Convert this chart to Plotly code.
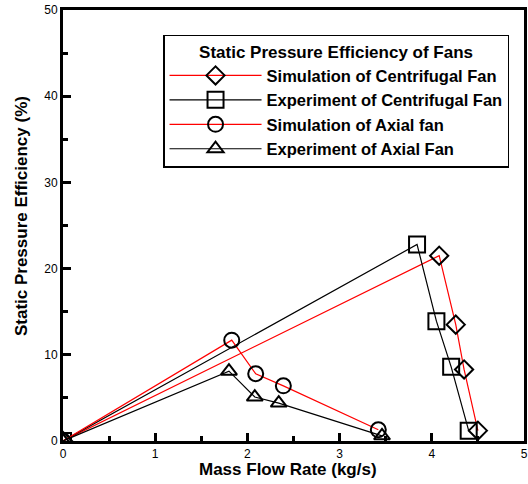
import plotly.graph_objects as go

sim_cf_x = [0, 4.08, 4.26, 4.35, 4.50]
sim_cf_y = [0, 21.5, 13.5, 8.3, 1.2]
exp_cf_x = [0, 3.84, 4.05, 4.21, 4.40]
exp_cf_y = [0, 22.8, 13.9, 8.6, 1.2]
sim_ax_x = [0, 1.83, 2.09, 2.39, 3.42]
sim_ax_y = [0, 11.7, 7.8, 6.4, 1.3]
exp_ax_x = [0, 1.80, 2.08, 2.34, 3.46]
exp_ax_y = [0, 8.1, 5.1, 4.4, 0.6]

names = ["Simulation of Centrifugal Fan", "Experiment of Centrifugal Fan",
         "Simulation of Axial fan", "Experiment of Axial Fan"]
symbols = ["diamond-open", "square-open", "circle-open", "triangle-up-open"]
colors = ["red", "black", "red", "black"]
sizes = [14, 16, 15, 14]
xs = [sim_cf_x, exp_cf_x, sim_ax_x, exp_ax_x]
ys = [sim_cf_y, exp_cf_y, sim_ax_y, exp_ax_y]

fig = go.Figure()
for x, y, n, s, c, sz in zip(xs, ys, names, symbols, colors, sizes):
    fig.add_trace(go.Scatter(
        x=x, y=y, name="<b>" + n + "</b>", mode="lines+markers",
        line=dict(color=c, width=1.2),
        marker=dict(symbol=s, size=sz, color="black", line=dict(color="black", width=2)),
    ))

axis_common = dict(
    showline=True, linewidth=3, linecolor="black", mirror=True,
    ticks="inside", ticklen=8, tickwidth=3, tickcolor="black",
    showgrid=False, zeroline=False, automargin=False,
    tickfont=dict(family="Liberation Sans", size=12, color="black"),
)
title_font = dict(family="Liberation Sans", size=17, color="black")
fig.update_xaxes(range=[0, 5], dtick=1, tick0=0,
                 minor=dict(ticks="inside", ticklen=5, tickwidth=3, dtick=0.5, tickcolor="black"),
                 **axis_common)
fig.update_yaxes(range=[0, 50], dtick=10, tick0=0,
                 minor=dict(ticks="inside", ticklen=5, tickwidth=3, dtick=5, tickcolor="black"),
                 **axis_common)

fig.add_annotation(text="<b>Mass Flow Rate (kg/s)</b>", xref="paper", yref="paper",
                   x=0.487, y=-0.067, xanchor="center", yanchor="middle",
                   showarrow=False, font=title_font)
fig.add_annotation(text="<b>Static Pressure Efficiency (%)</b>", xref="paper", yref="paper",
                   x=-0.091, y=0.522, xanchor="center", yanchor="middle", textangle=-90,
                   showarrow=False, font=title_font)

fig.update_layout(
    width=528, height=484,
    margin=dict(l=63, r=4, t=10, b=43),
    paper_bgcolor="white", plot_bgcolor="white",
    font=dict(family="Liberation Sans", color="black"),
    legend=dict(
        title=dict(text="<b>Static Pressure Efficiency of Fans</b>", side="top center",
                   font=dict(family="Liberation Sans", size=17, color="black")),
        font=dict(family="Liberation Sans", size=16.5, color="black"),
        x=0.217, y=0.943, xanchor="left", yanchor="top",
        bgcolor="white", bordercolor="black", borderwidth=1.5,
        itemwidth=92, tracegroupgap=0,
    ),
)
fig.write_html("out.html", config={"displayModeBar": False},
               post_script="document.body.style.margin='0px';")
